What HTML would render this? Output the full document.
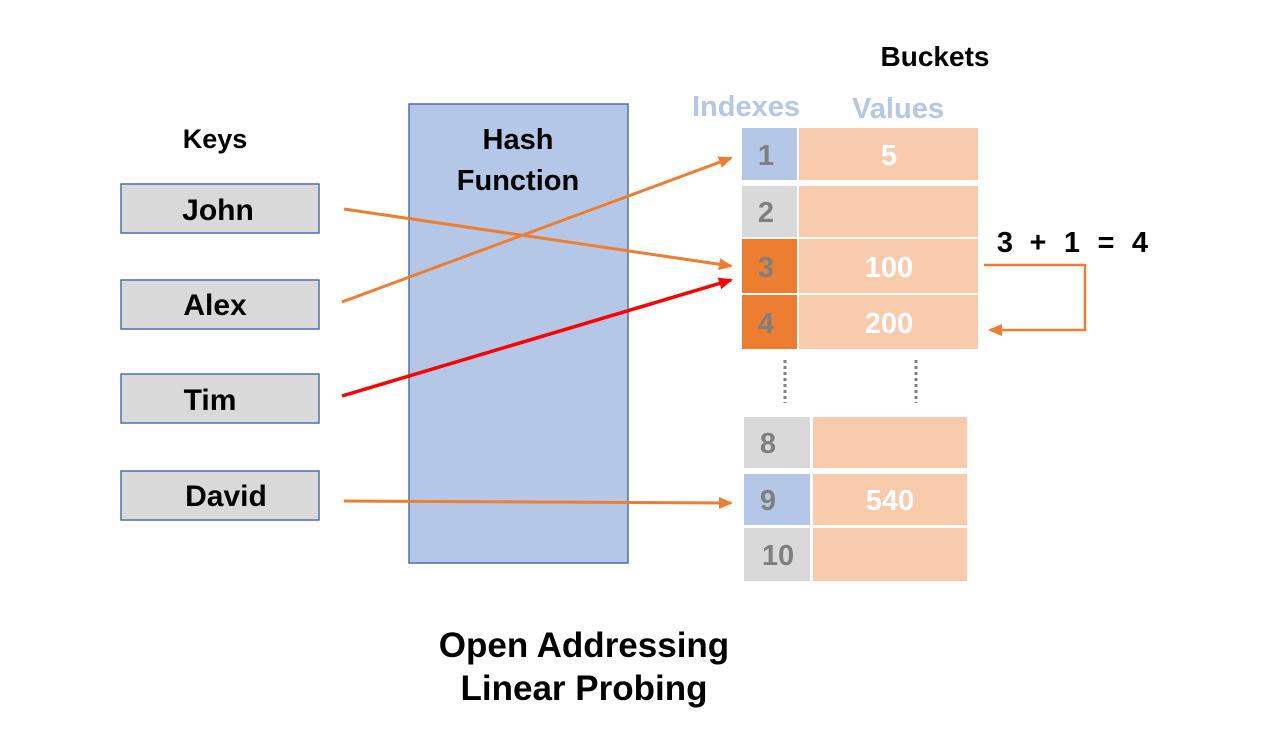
<!DOCTYPE html>
<html><head><meta charset="utf-8"><style>
html,body{margin:0;padding:0;background:#fff;}
svg{display:block;}
text{font-family:"Liberation Sans",sans-serif;font-weight:bold;}
</style></head><body>
<svg width="1280" height="752" viewBox="0 0 1280 752" xmlns="http://www.w3.org/2000/svg">
<defs>
<marker id="ao" markerWidth="14" markerHeight="12" refX="12" refY="6" orient="auto" markerUnits="userSpaceOnUse"><path d="M0,0 L14,6 L0,12 Z" fill="#ed7d31"/></marker>
<marker id="ar" markerWidth="14" markerHeight="12" refX="12" refY="6" orient="auto" markerUnits="userSpaceOnUse"><path d="M0,0 L14,6 L0,12 Z" fill="#ff0000"/></marker>
</defs>
<text x="215" y="148" font-size="27" text-anchor="middle" fill="#000">Keys</text>
<g fill="#d9d9d9" stroke="#4f6fad" stroke-width="1.5">
<rect x="121" y="184" width="198" height="49"/>
<rect x="121" y="280" width="198" height="49"/>
<rect x="121" y="374" width="198" height="49"/>
<rect x="121" y="471" width="198" height="49"/>
</g>
<g font-size="30" fill="#000" text-anchor="middle">
<text x="218" y="220">John</text>
<text x="215" y="315">Alex</text>
<text x="210" y="410">Tim</text>
<text x="226" y="506">David</text>
</g>
<rect x="409" y="104" width="219" height="459" fill="#b4c7e7" stroke="#4f6fad" stroke-width="1.5"/>
<text x="518" y="149" font-size="29" text-anchor="middle">Hash</text>
<text x="518" y="190" font-size="29" text-anchor="middle">Function</text>
<text x="935" y="66" font-size="28" text-anchor="middle">Buckets</text>
<text x="746" y="116" font-size="29" text-anchor="middle" fill="#b4c7e7">Indexes</text>
<text x="898" y="118" font-size="29" text-anchor="middle" fill="#b4c7e7">Values</text>
<rect x="742" y="128" width="55" height="52" fill="#b4c7e7"/>
<rect x="742" y="186" width="55" height="51" fill="#d9d9d9"/>
<rect x="742" y="239" width="55" height="54" fill="#ed7d31"/>
<rect x="742" y="295" width="55" height="54" fill="#ed7d31"/>
<g fill="#f8cbad">
<rect x="799" y="128" width="179" height="52"/>
<rect x="799" y="186" width="179" height="51"/>
<rect x="799" y="239" width="179" height="54"/>
<rect x="799" y="295" width="179" height="54"/>
</g>
<g font-size="29" fill="#7f7f7f" text-anchor="middle">
<text x="766" y="165">1</text>
<text x="766" y="222">2</text>
<text x="766" y="277">3</text>
<text x="766" y="333">4</text>
</g>
<g font-size="29" fill="#fff" text-anchor="middle">
<text x="889" y="165">5</text>
<text x="889" y="277">100</text>
<text x="889" y="333">200</text>
</g>
<line x1="785" y1="360" x2="785" y2="403" stroke="#7f7f7f" stroke-width="3" stroke-dasharray="3,3"/>
<line x1="916" y1="360" x2="916" y2="403" stroke="#7f7f7f" stroke-width="3" stroke-dasharray="3,3"/>
<rect x="744" y="417" width="66" height="51" fill="#d9d9d9"/>
<rect x="744" y="474" width="66" height="51" fill="#b4c7e7"/>
<rect x="744" y="528" width="66" height="53" fill="#d9d9d9"/>
<g fill="#f8cbad">
<rect x="813" y="417" width="154" height="51"/>
<rect x="813" y="474" width="154" height="51"/>
<rect x="813" y="528" width="154" height="53"/>
</g>
<g font-size="29" fill="#7f7f7f" text-anchor="middle">
<text x="768" y="453">8</text>
<text x="768" y="510">9</text>
<text x="778" y="565">10</text>
</g>
<text x="890" y="510" font-size="29" fill="#fff" text-anchor="middle">540</text>
<g font-size="29" fill="#000" text-anchor="middle">
<text x="1005" y="252">3</text>
<text x="1038" y="252">+</text>
<text x="1072" y="252">1</text>
<text x="1106" y="252">=</text>
<text x="1140" y="252">4</text>
</g>
<polyline points="984,265 1085,265 1085,330 990,330" fill="none" stroke="#ed7d31" stroke-width="2.5" marker-end="url(#ao)"/>
<line x1="344" y1="209" x2="731" y2="266" stroke="#ed7d31" stroke-width="3" marker-end="url(#ao)"/>
<line x1="342" y1="302" x2="731" y2="158" stroke="#ed7d31" stroke-width="3" marker-end="url(#ao)"/>
<line x1="342" y1="396" x2="731" y2="280" stroke="#ff0000" stroke-width="3.5" marker-end="url(#ar)"/>
<line x1="344" y1="501" x2="731" y2="503" stroke="#ed7d31" stroke-width="3" marker-end="url(#ao)"/>
<text x="584" y="657" font-size="35" text-anchor="middle" fill="#000">Open Addressing</text>
<text x="584" y="700" font-size="35" text-anchor="middle" fill="#000">Linear Probing</text>
</svg>
</body></html>
